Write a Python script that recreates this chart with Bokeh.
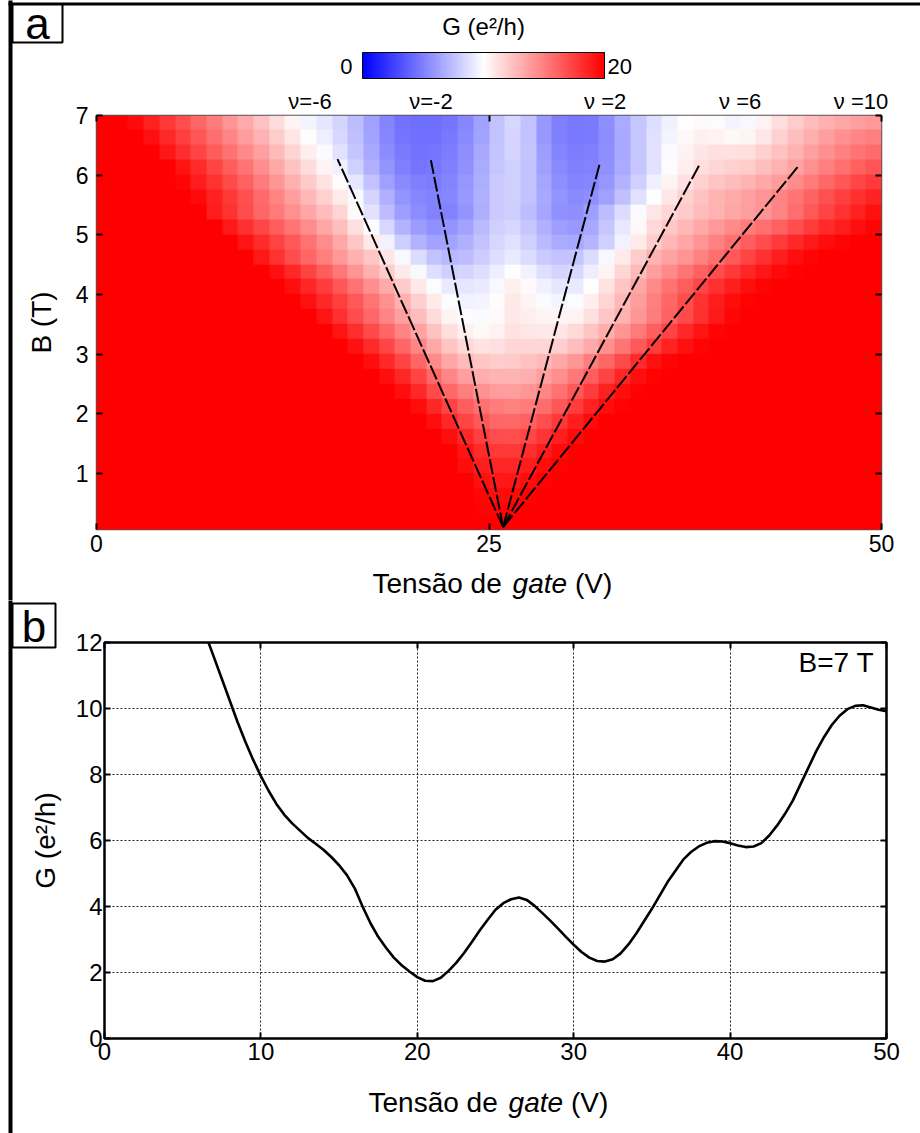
import numpy as np
from bokeh.plotting import figure
from bokeh.models import (Range1d, LinearAxis, FixedTicker, LinearColorMapper, ColorBar, Label,
                          CustomLabelingPolicy)
from bokeh.layouts import column, row
from bokeh.embed import file_html
from bokeh.resources import INLINE

FONT = "Liberation Sans"

# ---------------- panel a data ----------------
gate_ticks_a = [0, 25, 50]
field_ticks_a = [1, 2, 3, 4, 5, 6, 7]
map_x0, map_dw = 0, 50          # gate-voltage extent of the map (V)
map_y0, map_dh = 0, 7           # field extent of the map (T)
# G (e^2/h); 1 V columns (0.5 ... 49.5 V),
# rows from B = 6.875 T (top) down to B = 0.125 T (bottom), 0.25 T apart
G_map = [
    [20, 20, 19.6, 18.7, 17.8, 16.9, 16.0, 15.1, 14.2, 13.3, 12.4, 11.4, 10.4, 9.6, 9.0, 8.3, 7.4, 6.3, 5.2, 4.5,
     4.3, 4.3, 4.6, 5.3, 6.3, 7.6, 8.4, 7.6, 6.0, 5.0, 4.7, 4.8, 5.6, 6.7, 7.8, 8.7, 9.4, 10.0, 10.2, 9.9,
     9.6, 9.7, 10.5, 11.3, 12.0, 12.6, 13.1, 13.5, 13.8, 14.0],
    [20] * 3 + [19.3, 18.4, 17.5, 16.6, 15.7, 14.8, 13.9, 13.0, 12.0, 11.0, 10.1, 9.3, 8.5, 7.5, 6.4, 5.3, 4.6, 4.4,
                4.4, 4.7, 5.4, 6.4, 7.6, 8.3, 7.6, 6.0, 5.0, 4.7, 4.8, 5.5, 6.6, 7.8, 8.8, 9.6, 10.3, 10.6, 10.5, 10.3,
                10.4, 11.0, 11.8, 12.5, 13.2, 13.8, 14.3, 14.7, 15.0],
    [20] * 4 + [19.1, 18.2, 17.3, 16.4, 15.5, 14.6, 13.7, 12.7, 11.7, 10.7, 9.8, 8.9, 7.8, 6.6, 5.5, 4.8, 4.5, 4.6,
                4.9, 5.6, 6.6, 7.7, 8.3, 7.7, 6.2, 5.2, 4.9, 5.0, 5.6, 6.6, 7.8, 8.9, 9.8, 10.5, 11.0, 11.2, 11.2, 11.3,
                11.8, 12.4, 13.0, 13.7, 14.3, 14.9, 15.4, 15.8],
    [20] * 5 + [19.2, 18.3, 17.3, 16.4, 15.4, 14.4, 13.4, 12.4, 11.4, 10.4, 9.4, 8.2, 6.9, 5.8, 5.0, 4.6, 4.7, 5.0,
                5.7, 6.7, 7.8, 8.2, 7.6, 6.3, 5.4, 5.0, 5.1, 5.7, 6.7, 7.8, 8.9, 9.9, 10.7, 11.3, 11.6, 11.8, 12.0, 12.5,
                13.0, 13.6, 14.3, 15.0, 15.6, 16.2, 16.7],
    [20] * 5 + [19.7, 18.9, 18.0, 17.1, 16.1, 15.1, 14.1, 13.1, 12.1, 11.1, 10.1, 9.0, 7.6, 6.3, 5.4, 5.0, 4.9, 5.2,
                5.9, 6.8, 7.9, 8.2, 7.6, 6.5, 5.6, 5.2, 5.3, 5.9, 7.0, 8.2, 9.4, 10.4, 11.2, 11.8, 12.3, 12.6, 12.9, 13.4,
                13.9, 14.5, 15.2, 15.9, 16.6, 17.2, 17.7],
    [20] * 6 + [19.6, 18.7, 17.8, 16.8, 15.8, 14.8, 13.8, 12.8, 11.8, 10.8, 9.7, 8.3, 6.9, 5.8, 5.3, 5.1, 5.3, 6.0,
                6.9, 7.9, 8.2, 7.6, 6.6, 5.8, 5.4, 5.6, 6.3, 7.5, 8.8, 10.0, 11.0, 11.8, 12.4, 12.9, 13.3, 13.7, 14.2,
                14.8, 15.4, 16.1, 16.8, 17.5, 18.1, 18.6],
    [20] * 7 + [18.9, 18.0, 17.0, 16.0, 15.2, 14.3, 13.5, 12.6, 11.7, 10.2, 8.9, 7.4, 6.2, 5.5, 5.1, 5.1, 5.8, 6.8,
                7.9, 8.1, 7.4, 6.5, 5.7, 5.6, 6.2, 7.4, 8.6, 9.8, 11.0, 11.6, 12.1, 12.6, 13.0, 13.5, 13.8, 14.2, 14.8,
                15.7, 16.5, 17.3, 18.0, 18.7, 19.3],
    [20] * 8 + [19.0, 18.1, 17.2, 16.3, 15.4, 14.5, 13.5, 12.5, 11.2, 9.9, 8.4, 7.0, 6.1, 5.7, 5.8, 6.4, 7.3, 8.2,
                8.4, 7.8, 6.9, 6.2, 6.0, 6.6, 7.8, 9.1, 10.3, 11.5, 12.2, 12.8, 13.4, 14.0, 14.6, 15.1, 15.6, 16.2, 16.9,
                17.6, 18.3, 18.9, 19.4, 19.8],
    [20] * 9 + [19.2, 18.3, 17.4, 16.5, 15.5, 14.5, 13.4, 12.2, 10.9, 9.5, 8.1, 7.0, 6.4, 6.4, 6.9, 7.6, 8.4, 8.8,
                8.2, 7.3, 6.7, 6.6, 7.1, 8.2, 9.5, 10.8, 12.0, 12.8, 13.5, 14.2, 14.9, 15.6, 16.3, 17.0, 17.7, 18.4, 19.0,
                19.5, 19.8] + [20] * 2,
    [20] * 10 + [19.0, 18.0, 17.0, 16.0, 15.0, 14.0, 13.1, 12.2, 11.0, 9.7, 8.6, 7.6, 7.2, 7.4, 8.0, 8.7, 9.2, 8.6,
                 7.9, 7.6, 7.7, 8.6, 9.7, 10.8, 12.0, 13.0, 13.6, 14.2, 14.9, 15.7, 16.5, 17.3, 18.1, 18.8, 19.4,
                 19.8] + [20] * 4,
    [20] * 11 + [19.3, 18.4, 17.4, 16.4, 15.3, 14.2, 13.1, 12.0, 10.8, 9.7, 8.7, 8.2, 8.3, 8.7, 9.3, 10.0, 9.5, 8.7,
                 8.3, 8.5, 9.3, 10.4, 11.6, 12.7, 13.8, 14.6, 15.4, 16.2, 17.0, 17.8, 18.5, 19.1, 19.6, 19.9] + [20] * 5,
    [20] * 12 + [19.4, 18.5, 17.6, 16.6, 15.5, 14.4, 13.3, 12.1, 10.9, 9.9, 9.2, 9.0, 9.2, 9.7, 10.6, 10.2, 9.4, 9.0,
                 9.2, 10.0, 11.1, 12.3, 13.5, 14.6, 15.5, 16.4, 17.3, 18.1, 18.8, 19.4, 19.8] + [20] * 7,
    [20] * 13 + [19.3, 18.4, 17.5, 16.5, 15.4, 14.3, 13.1, 11.9, 10.8, 9.9, 9.5, 9.6, 10.1, 10.9, 10.4, 9.8, 9.6, 9.9,
                 10.7, 11.7, 12.8, 13.9, 15.0, 16.0, 17.0, 18.0, 18.9, 19.5, 19.9] + [20] * 8,
    [20] * 14 + [19.2, 18.1, 17.0, 15.9, 14.8, 13.7, 12.6, 11.4, 10.4, 9.9, 9.8, 10.2, 10.9, 10.7, 10.4, 10.4, 10.5,
                 11.2, 12.2, 13.1, 14.1, 15.1, 16.1, 17.1, 18.1, 19.0, 19.7] + [20] * 9,
    [20] * 15 + [19.2, 18.2, 17.1, 16.0, 14.8, 13.6, 12.4, 11.3, 10.6, 10.3, 10.5, 11.1, 11.0, 10.9, 11.0, 11.5, 12.3,
                 13.2, 14.2, 15.2, 16.3, 17.4, 18.4, 19.2, 19.8] + [20] * 10,
    [20] * 16 + [19.3, 18.3, 17.2, 16.0, 14.7, 13.4, 12.3, 11.5, 11.1, 11.2, 11.6, 11.6, 11.6, 11.9, 12.5, 13.3, 14.3,
                 15.4, 16.5, 17.6, 18.6, 19.3, 19.8] + [20] * 11,
    [20] * 17 + [19.4, 18.4, 17.3, 16.0, 14.6, 13.5, 12.7, 12.2, 12.0, 12.1, 12.4, 12.8, 13.4, 14.1, 15.0, 16.0, 17.1,
                 18.3, 19.3, 19.8] + [20] * 13,
    [20] * 18 + [19.4, 18.5, 17.3, 15.9, 14.7, 13.8, 13.2, 12.9, 12.9, 13.2, 13.7, 14.4, 15.3, 16.3, 17.4, 18.5, 19.4,
                 19.9] + [20] * 14,
    [20] * 19 + [19.4, 18.4, 17.1, 15.9, 15.0, 14.3, 13.9, 13.8, 14.1, 14.7, 15.5, 16.5, 17.6, 18.7, 19.5,
                 19.9] + [20] * 15,
    [20] * 20 + [19.5, 18.5, 17.3, 16.3, 15.6, 15.1, 14.9, 15.1, 15.7, 16.6, 17.6, 18.7, 19.5, 19.9] + [20] * 16,
    [20] * 21 + [19.4, 18.4, 17.3, 16.5, 16.0, 15.9, 16.2, 16.9, 17.8, 18.8, 19.6] + [20] * 18,
    [20] * 22 + [19.4, 18.4, 17.5, 17.0, 16.9, 17.2, 17.9, 18.8, 19.6] + [20] * 19,
    [20] * 23 + [19.2, 18.3, 17.8, 17.8, 18.2, 18.9, 19.6] + [20] * 20,
    [20] * 23 + [19.5, 18.8, 18.5, 18.5, 18.9, 19.5, 19.9] + [20] * 20,
    [20] * 24 + [19.3, 19.0, 19.1, 19.5, 19.9] + [20] * 21,
    [20] * 24 + [19.7, 19.5, 19.6, 19.9] + [20] * 22,
    [20] * 24 + [19.9, 19.8, 19.9] + [20] * 23,
    [20] * 50,
]
# dashed filling-factor guide lines: common origin and upper ends
fan_origin_V, fan_origin_B = 25.9, 0.1
fan_end_V = [15.35, 21.3, 32.05, 38.4, 44.7]
fan_end_B = [6.27, 6.25, 6.19, 6.17, 6.15]
nu_label_V = [13.6, 21.3, 32.4, 41.0, 48.7]
nu_label_text = ["ν=-6", "ν=-2", "ν =2", "ν =6", "ν =10"]
cbar_low, cbar_high = 0, 20

# ---------------- panel b data ----------------
gate_b = [6.65, 7, 7.5, 8, 8.5, 9, 9.5, 10, 10.5, 11, 11.5, 12, 12.5, 13, 13.5, 14, 14.5, 15, 15.5, 16,
          16.5, 17, 17.5, 18, 18.5, 19, 19.5, 20, 20.5, 21, 21.5, 22, 22.5, 23, 23.5, 24, 24.5, 25, 25.5, 26,
          26.5, 27, 27.5, 28, 28.5, 29, 29.5, 30, 30.5, 31, 31.5, 32, 32.5, 33, 33.5, 34, 35, 36, 37, 37.5,
          38, 38.5, 39, 39.5, 40, 40.5, 41, 41.5, 42, 42.5, 43, 43.5, 44, 44.5, 45, 45.5, 46, 46.5, 47, 47.5,
          48, 48.5, 49, 49.5, 50]
G_b = [12.0, 11.55, 10.9, 10.25, 9.6, 9.0, 8.45, 7.95, 7.5, 7.1, 6.78, 6.52, 6.3, 6.08, 5.9, 5.72, 5.5, 5.25, 4.95, 4.55,
       4.0, 3.5, 3.08, 2.75, 2.45, 2.22, 2.03, 1.86, 1.75, 1.74, 1.84, 2.05, 2.3, 2.6, 2.93, 3.28, 3.6, 3.9, 4.1, 4.22,
       4.27, 4.2, 4.02, 3.8, 3.57, 3.33, 3.08, 2.84, 2.62, 2.45, 2.35, 2.33, 2.4, 2.58, 2.85, 3.18, 3.93, 4.74, 5.42, 5.65,
       5.82, 5.93, 5.98, 5.97, 5.92, 5.85, 5.8, 5.82, 5.92, 6.15, 6.45, 6.8, 7.2, 7.7, 8.2, 8.7, 9.13, 9.5, 9.78, 9.98,
       10.08, 10.1, 10.03, 9.96, 9.92]
gate_ticks_b = [0, 10, 20, 30, 40, 50]
G_ticks_b = [0, 2, 4, 6, 8, 10, 12]

# page geometry (pixels)
A_W, A_H = 920, 600
B_W, B_H = 920, 533
A_FRAME = dict(left=96, right=39, top=115, bottom=71)
B_FRAME = dict(left=104, right=34, top=42, bottom=95)


def bwr_palette(n=256):
    cols = []
    for i in range(n):
        t = i / (n - 1)
        if t <= 0.5:
            s = t / 0.5
            r = g = int(round(255 * s)); b = 255
        else:
            s = (t - 0.5) / 0.5
            r = 255; g = b = int(round(255 * (1 - s)))
        cols.append("#%02x%02x%02x" % (r, g, b))
    return cols


def style_axis(ax, size="23px", show_labels=True, standoff=6):
    ax.axis_line_color = None
    ax.major_tick_in = 6
    ax.major_tick_out = 0
    ax.major_tick_line_width = 2
    ax.major_tick_line_color = "black"
    ax.minor_tick_line_color = None
    ax.major_label_text_font = FONT
    ax.major_label_text_color = "black"
    ax.major_label_standoff = standoff
    if show_labels:
        ax.major_label_text_font_size = size
    else:
        ax.major_label_text_font_size = "0px"
        ax.major_label_policy = CustomLabelingPolicy(code="return []")


def style_axis_label(ax, text, standoff):
    ax.axis_label = text
    ax.axis_label_text_font = FONT
    ax.axis_label_text_font_size = "28px"
    ax.axis_label_text_font_style = "normal"
    ax.axis_label_text_color = "black"
    ax.axis_label_standoff = standoff


solid_white = LinearColorMapper(palette=["white"], low=0, high=1)
solid_black = LinearColorMapper(palette=["black"], low=0, high=1)


def _bar(p, fr, H, left, top, w, h, mapper, alpha=1.0, line_color=None, line_width=1, title=None,
         size="20px", style="normal"):
    fl = fr["left"]
    fb = H - fr["bottom"]
    kw = dict(color_mapper=mapper, orientation="horizontal", width=w, height=h,
              location=(left - fl, fb - (top + h)), padding=0, margin=0,
              ticker=FixedTicker(ticks=[]), major_label_text_font_size="0px",
              major_tick_line_color=None, minor_tick_line_color=None, label_standoff=0,
              scale_alpha=alpha, bar_line_color=line_color, bar_line_width=line_width,
              background_fill_alpha=0, border_line_color=None)
    if title is not None:
        kw.update(title=title, title_standoff=0, title_text_font=FONT, title_text_font_size=size,
                  title_text_font_style=style, title_text_color="black")
    p.add_layout(ColorBar(**kw), "center")


def text_at(p, fr, H, left, bottom, text, size, style="normal"):
    # text carried by an invisible 1px colour-bar title; 'bottom' is the bottom of the text box
    _bar(p, fr, H, left, bottom, 1, 1, solid_white, alpha=0, title=text, size=size, style=style)


mapper = LinearColorMapper(palette=bwr_palette(), low=cbar_low, high=cbar_high)

# ================= panel a =================
pa = figure(width=A_W, height=A_H, x_range=Range1d(0, 50), y_range=Range1d(0.06, 7),
            output_backend="svg", toolbar_location=None,
            min_border_left=A_FRAME["left"], min_border_right=A_FRAME["right"],
            min_border_top=A_FRAME["top"], min_border_bottom=A_FRAME["bottom"])
pa.grid.visible = False
pa.outline_line_color = "#555555"
pa.outline_line_width = 1.5

pa.image(image=[np.array(G_map[::-1], dtype=float)], x=map_x0, y=map_y0, dw=map_dw, dh=map_dh,
         color_mapper=mapper)
pa.segment(x0=[fan_origin_V] * len(fan_end_V), y0=[fan_origin_B] * len(fan_end_V),
           x1=fan_end_V, y1=fan_end_B, line_color="black", line_width=2, line_dash="15 3")

pa.xaxis.ticker = FixedTicker(ticks=gate_ticks_a)
pa.yaxis.ticker = FixedTicker(ticks=field_ticks_a)
style_axis(pa.xaxis[0], standoff=5)
style_axis(pa.yaxis[0], standoff=8)
style_axis_label(pa.yaxis[0], "B (T)", 16)

top_a = LinearAxis(ticker=FixedTicker(ticks=gate_ticks_a))
style_axis(top_a, show_labels=False, standoff=0)
pa.add_layout(top_a, "above")
nu_axis = LinearAxis(ticker=FixedTicker(ticks=nu_label_V),
                     major_label_overrides={v: t for v, t in zip(nu_label_V, nu_label_text)})
style_axis(nu_axis, size="22px", standoff=2)
nu_axis.major_tick_line_color = None
pa.add_layout(nu_axis, "above")
right_a = LinearAxis(ticker=FixedTicker(ticks=field_ticks_a))
style_axis(right_a, show_labels=False, standoff=0)
pa.add_layout(right_a, "right")

# the colour scale itself
_bar(pa, A_FRAME, A_H, 362, 52, 242, 26, mapper, line_color="black", line_width=1)
# frame lines of the figure page and the panel tag box
_bar(pa, A_FRAME, A_H, 8, 0, 4, A_H, solid_black)
_bar(pa, A_FRAME, A_H, 8, 2, 912, 3, solid_black)
_bar(pa, A_FRAME, A_H, 12, 4, 50, 38, solid_white, line_color="black", line_width=2)

text_at(pa, A_FRAME, A_H, 441.7, 39, "G (e²/h)", "24px")
text_at(pa, A_FRAME, A_H, 339.8, 73, "0", "22px")
text_at(pa, A_FRAME, A_H, 607, 73, "20", "22px")
text_at(pa, A_FRAME, A_H, 24.8, 47, "a", "44px")
text_at(pa, A_FRAME, A_H, 372, 598, "Tensão de", "28px")
text_at(pa, A_FRAME, A_H, 512.1, 598, "gate", "28px", style="italic")
text_at(pa, A_FRAME, A_H, 574.4, 598, "(V)", "28px")

# ================= panel b =================
pb = figure(width=B_W, height=B_H, x_range=Range1d(0, 50), y_range=Range1d(0, 12),
            output_backend="svg", toolbar_location=None,
            min_border_left=B_FRAME["left"], min_border_right=B_FRAME["right"],
            min_border_top=B_FRAME["top"], min_border_bottom=B_FRAME["bottom"])
pb.outline_line_color = "black"
pb.outline_line_width = 2.5
pb.xaxis.ticker = FixedTicker(ticks=gate_ticks_b)
pb.yaxis.ticker = FixedTicker(ticks=G_ticks_b)
pb.xgrid.ticker = FixedTicker(ticks=gate_ticks_b[1:-1])
pb.ygrid.ticker = FixedTicker(ticks=G_ticks_b[1:-1])
pb.grid.grid_line_color = "#222222"
pb.grid.grid_line_dash = "2 2"
pb.grid.grid_line_width = 1
style_axis(pb.xaxis[0], size="24px", standoff=4)
style_axis(pb.yaxis[0], size="24px", standoff=2)
style_axis_label(pb.yaxis[0], "G (e²/h)", 12)
top_b = LinearAxis(ticker=FixedTicker(ticks=gate_ticks_b))
style_axis(top_b, show_labels=False, standoff=0)
pb.add_layout(top_b, "above")
right_b = LinearAxis(ticker=FixedTicker(ticks=G_ticks_b))
style_axis(right_b, show_labels=False, standoff=0)
pb.add_layout(right_b, "right")

pb.line(gate_b, G_b, line_color="black", line_width=2.6)

pb.add_layout(Label(x=49.2, y=11.85, text="B=7 T", text_font=FONT, text_font_size="28px",
                    text_align="right", text_baseline="top", text_color="black"))

_bar(pb, B_FRAME, B_H, 8, 0, 4, B_H, solid_black)
_bar(pb, B_FRAME, B_H, 12, 3, 43, 44, solid_white, line_color="black", line_width=2)
text_at(pb, B_FRAME, B_H, 21.3, 50, "b", "44px")
text_at(pb, B_FRAME, B_H, 368, 517, "Tensão de", "28px")
text_at(pb, B_FRAME, B_H, 508.1, 517, "gate", "28px", style="italic")
text_at(pb, B_FRAME, B_H, 570.4, 517, "(V)", "28px")

layout = column(row(pa), row(pb), spacing=0)
open("out.html", "w").write(file_html(layout, INLINE))
